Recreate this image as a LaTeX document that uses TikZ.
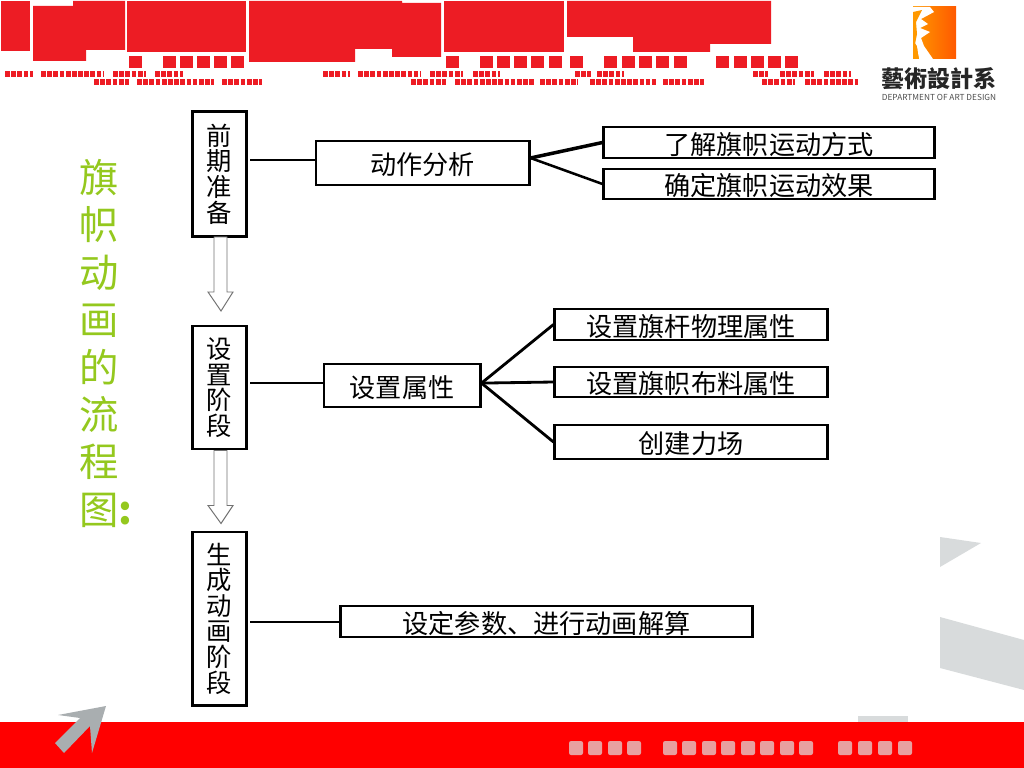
\documentclass[tikz,border=0pt]{standalone}
\usepackage{fontspec}
\setmainfont{Noto Sans CJK SC}
\definecolor{bannerred}{HTML}{ED1C24}
\definecolor{bandred}{HTML}{FF0000}
\definecolor{titlegreen}{HTML}{94C81E}
\definecolor{palegray}{HTML}{D8DBDC}
\definecolor{arrowgray}{HTML}{A9AEB0}
\definecolor{dotpink}{HTML}{E8A0A0}
\tikzset{
    stagebox/.style={draw, line width=2.1pt, fill=white, inner sep=0pt, align=center, font=\fontsize{18pt}{18.2pt}\selectfont, minimum width=1.35cm},
    itembox/.style={draw, line width=2.1pt, fill=white, inner sep=0pt, text height=17pt, text depth=0.2pt, font=\fontsize{18.6pt}{20pt}\selectfont},
    link/.style={line width=2pt},
    stub/.style={line width=2pt, shorten <=1.5pt},
    hollow/.style={draw=black!55, line width=0.7pt, fill=white},
    dotrow/.style={bannerred, line width=3.8pt, dash pattern=on 3.4pt off 1pt},
}
\begin{document}
\begin{tikzpicture}[x=0.025cm, y=-0.025cm]
    \useasboundingbox (0, 0) rectangle (1024, 768);

    % red blocks of the header:
    \fill[bannerred] (1, 1) rectangle (30, 51);
    \fill[bannerred] (33, 6) -- (73, 6) -- (73, 1) -- (125, 1) -- (125, 50) -- (86, 50) -- (86, 61) -- (33, 61) -- cycle;
    \fill[bannerred] (127, 1) rectangle (246, 52);
    \fill[bannerred] (249, 1) -- (402, 1) -- (402, 3) -- (441, 3) -- (441, 57) -- (392, 57) -- (392, 49) -- (355, 49) -- (355, 62) -- (249, 62) -- cycle;
    \fill[bannerred] (444, 1) rectangle (564, 52);
    \fill[bannerred] (567, 1) -- (771, 1) -- (771, 44) -- (710, 44) -- (710, 52) -- (633, 52) -- (633, 37) -- (567, 37) -- cycle;

    % squares under the blocks:
    \foreach \sx in {129, 163, 180, 197, 214, 231, 446, 480, 497, 514, 531, 549, 570, 604, 622, 639, 656, 674, 716, 734, 751, 768, 785}
        \fill[bannerred] (\sx, 56) rectangle +(13, 12);

    % rows of dots:
    \foreach \ax/\bx in {5/33, 41/104, 113/146, 155/183, 323/350, 358/421, 430/463, 473/500, 575/591, 597/624, 753/768, 780/814, 824/851}
        \draw[dotrow] (\ax, 74) -- (\bx, 74);
    \foreach \ax/\bx in {94/129, 137/214, 222/262, 411/446, 455/534, 540/578, 590/656, 663/704, 762/795, 805/858}
        \draw[dotrow] (\ax, 82) -- (\bx, 82);

    % logo:
    \shade[left color=orange!80!yellow, right color=orange!70!red] (913, 7) rectangle (956, 59);
    \fill[white] (913, 7) -- (930, 7) -- (934, 12) -- (921, 19) -- (928, 24) -- (920, 28) -- (930, 32) -- (921, 38) -- (924, 46) -- (933, 59) -- (919, 59) -- (917, 46) -- (913, 40) -- cycle;
    \fill[orange!80!yellow] (913, 12) -- (922, 10) -- (916, 22) -- (917, 34) -- (915, 44) -- (919, 59) -- (913, 59) -- cycle;
    \node[font=\bfseries\fontsize{16.4pt}{17pt}\selectfont, black!85] (artdept) at (939, 79) {藝術設計系};
    \node[font=\fontsize{5.9pt}{6pt}\selectfont, black!70] (artdepten) at (939, 97) {DEPARTMENT OF ART DESIGN};

    % gray shapes on the right:
    \fill[palegray] (940, 537) -- (981, 543) -- (940, 567) -- cycle;
    \fill[palegray] (940, 617) -- (1024, 640) -- (1024, 690) -- (940, 668) -- cycle;
    \fill[palegray] (858, 716) rectangle (908, 724);

    % bottom band:
    \fill[bandred] (0, 722) rectangle (1024, 768);
    \fill[arrowgray] (58, 715) -- (106, 706) -- (92, 753) -- (90, 726) -- (64, 753) -- (55, 743) -- (80, 718) -- cycle;
    \foreach \sx in {569, 588, 608, 627, 663, 682, 702, 721, 741, 760, 780, 799, 838, 858, 878, 898}
        \fill[dotpink, rounded corners=1.5pt] (\sx, 741) rectangle +(14, 14);

    % title:
    \node[anchor=north west, align=left, inner sep=0pt, titlegreen, font=\fontsize{28pt}{33.7pt}\selectfont] (title) at (79, 159) {旗\\帜\\动\\画\\的\\流\\程\\图{\bfseries :}};

    % stages:
    \node[stagebox, minimum height=3.125cm] (prepare) at (219.5, 174) {前\\期\\准\\备};
    \node[stagebox, minimum height=3.075cm] (setup) at (219.5, 387.5) {设\\置\\阶\\段};
    \node[stagebox, minimum height=4.325cm] (generate) at (219.5, 618.5) {生\\成\\动\\画\\阶\\段};

    % first row:
    \node[itembox, minimum width=5.325cm, minimum height=1.1cm] (analyse) at (422.5, 163) {动作分析};
    \node[itembox, minimum width=8.25cm, minimum height=0.775cm] (motion) at (769, 142.5) {了解旗帜运动方式};
    \node[itembox, minimum width=8.25cm, minimum height=0.75cm] (effect) at (769, 184) {确定旗帜运动效果};
    \draw[stub] (prepare.east |- 0, 160) -- (analyse.west |- 0, 160);
    \draw[line width=2.5pt] ([yshift=0.125cm]analyse.east) -- (motion.west);
    \draw[line width=1.8pt] ([yshift=0.125cm]analyse.east) -- (effect.west);

    % second row:
    \node[itembox, minimum width=3.9cm, minimum height=1.075cm] (attrs) at (402, 385.5) {设置属性};
    \node[itembox, minimum width=6.8cm, minimum height=0.775cm] (pole) at (691, 324.5) {设置旗杆物理属性};
    \node[itembox, minimum width=6.8cm, minimum height=0.75cm] (cloth) at (691, 382) {设置旗帜布料属性};
    \node[itembox, minimum width=6.8cm, minimum height=0.85cm] (field) at (691, 442) {创建力场};
    \draw[stub] (setup.east |- 0, 383) -- (attrs.west |- 0, 383);
    \draw[link] ([yshift=0.06cm]attrs.east) -- (pole.west);
    \draw[link] ([yshift=0.06cm]attrs.east) -- (cloth.west);
    \draw[link] ([yshift=0.06cm]attrs.east) -- (field.west);

    % third row:
    \node[itembox, minimum width=10.275cm, minimum height=0.775cm] (solve) at (546.5, 621.5) {设定参数、进行动画解算};
    \draw[stub] (generate.east |- 0, 622) -- (solve.west |- 0, 622);

    % hollow arrows between the stages:
    \draw[hollow] (prepare.south) ++(-5.5, -1) -- ++(0, 55) -- ++(-6, 0) -- ++(13, 19) -- ++(12, -19) -- ++(-6, 0) -- ++(0, -55) -- cycle;
    \draw[hollow] (setup.south) ++(-5.5, 0) -- ++(0, 55) -- ++(-6, 0) -- ++(13, 18) -- ++(12, -18) -- ++(-6, 0) -- ++(0, -55) -- cycle;
\end{tikzpicture}
\end{document}
